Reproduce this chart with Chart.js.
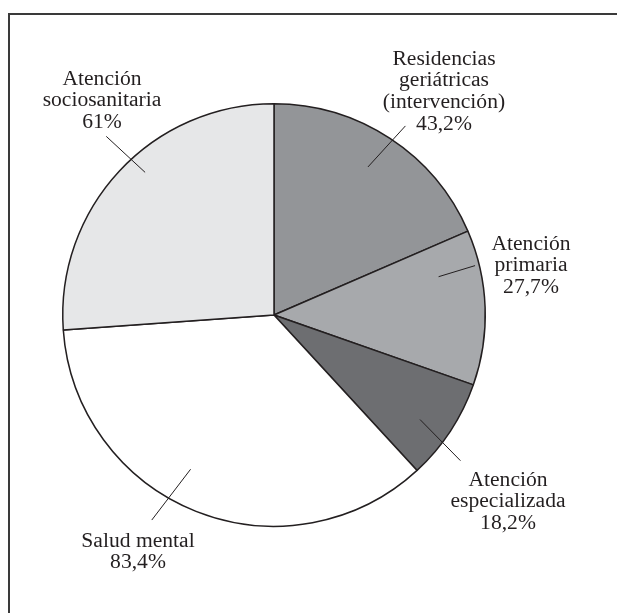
<!DOCTYPE html>
<html>
<head>
<meta charset="utf-8">
<script src="https://cdn.jsdelivr.net/npm/chart.js@4/dist/chart.umd.min.js"></script>
<style>
  html, body { margin: 0; padding: 0; background: #fff; }
  #wrap { position: relative; width: 617px; height: 613px; overflow: hidden; }
  #frame { position: absolute; left: 8px; top: 13px; right: -10px; bottom: -10px;
           border-top: 2px solid #3a3a3a; border-left: 2px solid #3a3a3a; }
  #chart { position: absolute; left: 0; top: 0; }
</style>
</head>
<body>
<div id="wrap">
  <div id="frame"></div>
  <canvas id="chart" width="617" height="613"></canvas>
</div>
<script>
// datos del gráfico
const categorias = [
  ['Residencias', 'geriátricas', '(intervención)'],
  ['Atención', 'primaria'],
  ['Atención', 'especializada'],
  ['Salud mental'],
  ['Atención', 'sociosanitaria']
];
const valores = [43.2, 27.7, 18.2, 83.4, 61];
const etiquetasValor = ['43,2%', '27,7%', '18,2%', '83,4%', '61%'];
const colores = ['#939598', '#a7a9ac', '#6d6e71', '#ffffff', '#e6e7e8'];

// líneas guía (ángulo desde arriba en grados, radios relativos) y posición del texto
const guias = [
  { a1: 32.4, r1: 0.83, a2: 34.8, r2: 1.09, tx: 170, ty: -256 },
  { a1: 76.9, r1: 0.80, a2: 76.2, r2: 0.98, tx: 257, ty: -71 },
  { a1: 125.6, r1: 0.85, a2: 128, r2: 1.12, tx: 234, ty: 165 },
  { a1: 208.4, r1: 0.83, a2: 210.8, r2: 1.13, tx: -136, ty: 226 },
  { a1: 317.9, r1: 0.91, a2: 316.8, r2: 1.16, tx: -172, ty: -236 }
];

const etiquetasPlugin = {
  id: 'etiquetas',
  afterDraw(chart) {
    const ctx = chart.ctx;
    const meta = chart.getDatasetMeta(0);
    const arc0 = meta.data[0];
    const cx = arc0.x, cy = arc0.y, R = arc0.outerRadius;
    const lh = 21.7;
    ctx.save();
    ctx.strokeStyle = '#231f20';
    ctx.lineWidth = 1;
    ctx.fillStyle = '#231f20';
    ctx.font = '21.6px "Liberation Serif", "DejaVu Serif", serif';
    ctx.textAlign = 'center';
    ctx.textBaseline = 'middle';
    guias.forEach((g, i) => {
      const p = (a, r) => {
        const rad = a * Math.PI / 180;
        return [cx + r * R * Math.sin(rad), cy - r * R * Math.cos(rad)];
      };
      const [x1, y1] = p(g.a1, g.r1);
      const [x2, y2] = p(g.a2, g.r2);
      ctx.beginPath();
      ctx.moveTo(x1, y1);
      ctx.lineTo(x2, y2);
      ctx.stroke();
      const lineas = [...categorias[i], etiquetasValor[i]];
      lineas.forEach((t, k) => {
        ctx.fillText(t, cx + g.tx, cy + g.ty + k * lh);
      });
    });
    ctx.restore();
  }
};

new Chart(document.getElementById('chart'), {
  type: 'pie',
  data: {
    labels: categorias.map(c => c.join(' ')),
    datasets: [{
      data: valores,
      backgroundColor: colores,
      borderColor: '#231f20',
      borderWidth: 1.5
    }]
  },
  options: {
    responsive: false,
    animation: false,
    events: [],
    layout: { padding: { left: 62, right: 131, top: 103, bottom: 86 } },
    plugins: {
      legend: { display: false },
      tooltip: { enabled: false }
    }
  },
  plugins: [etiquetasPlugin]
});
</script>
</body>
</html>
